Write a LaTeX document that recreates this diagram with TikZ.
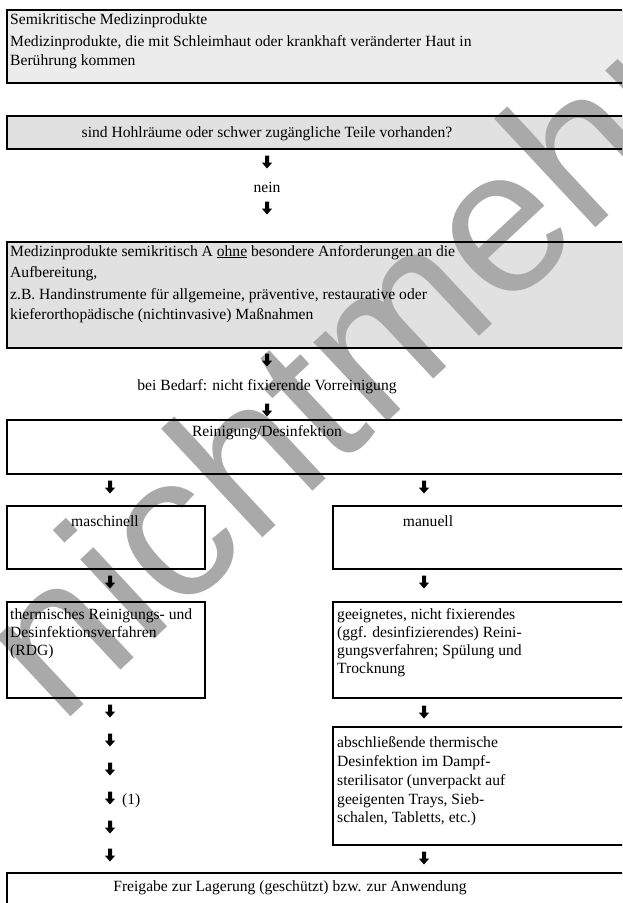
\documentclass[tikz,border=0pt]{standalone}
\usepackage{fontspec}
\setmainfont{Liberation Serif}
\newfontfamily\markfont{Liberation Sans}
\usetikzlibrary{calc}
\pgfdeclarelayer{fills}
\pgfdeclarelayer{mark}
\pgfsetlayers{fills,mark,main}
\definecolor{boxlight}{HTML}{ECECEC}
\definecolor{boxgray}{HTML}{E1E1E1}
\definecolor{markgray}{HTML}{A9A9A9}

% thick downward arrow glyph centred on a named coordinate
\newcommand\darrow[1]{\fill (#1) ++(-2,-6.5) -- ++(4,0) -- ++(0,7) -- ++(3.2,0) -- ++(-5.2,6) -- ++(-5.2,-6) -- ++(3.2,0) -- cycle;}
% fill behind a framed box
\newcommand\boxfill[2]{\begin{pgfonlayer}{fills}\fill[#1] (#2.north west) rectangle (#2.south east);\end{pgfonlayer}}

\begin{document}
\begin{tikzpicture}[x=1pt,y=-1pt,
  frame/.style={draw=black, line width=1.9pt, anchor=north west, inner sep=0pt, outer sep=0pt},
  txt/.style={anchor=base west, inner sep=0pt, font=\fontsize{15.6}{18}\selectfont},
  ctxt/.style={anchor=base, inner sep=0pt, font=\fontsize{15.6}{18}\selectfont}]
\useasboundingbox (0,0) rectangle (622,903);
\clip (0,0) rectangle (622,903);

% frames
\node[frame, minimum width=700pt, minimum height=73pt]  (b1) at (7,10) {};
\node[frame, minimum width=700pt, minimum height=33pt]  (b2) at (7,116) {};
\node[frame, minimum width=700pt, minimum height=106pt] (b3) at (7,242) {};
\node[frame, minimum width=700pt, minimum height=54pt]  (b4) at (7,420) {};
\node[frame, minimum width=198pt, minimum height=63pt]  (b5) at (7,506) {};
\node[frame, minimum width=400pt, minimum height=63pt]  (b6) at (333,506) {};
\node[frame, minimum width=198pt, minimum height=96pt]  (b7) at (7,602) {};
\node[frame, minimum width=400pt, minimum height=96pt]  (b8) at (333,602) {};
\node[frame, minimum width=400pt, minimum height=118pt] (b9) at (333,727) {};
\node[frame, minimum width=700pt, minimum height=60pt]  (b10) at (7,873) {};

\boxfill{boxlight}{b1}
\boxfill{boxgray}{b2}
\boxfill{boxgray}{b3}

% watermark
\begin{pgfonlayer}{mark}
\node[rotate=43, inner sep=0pt, text=markgray, font=\markfont\fontsize{205}{205}\selectfont] (wm) at (340,366) {nichtmehr};
\end{pgfonlayer}

% texts
\node[txt] (t1a) at (10,24) {Semikritische Medizinprodukte};
\node[txt] (t1b) at (10,46) {Medizinprodukte, die mit Schleimhaut oder krankhaft veränderter Haut in};
\node[txt] (t1c) at (10,65) {Berührung kommen};
\node[ctxt] (t2) at (267,137) {sind Hohlräume oder schwer zugängliche Teile vorhanden?};
\node[ctxt] (nein) at (267,192) {nein};
\node[txt] (t3a) at (10,256) {Medizinprodukte semikritisch A \underline{ohne} besondere Anforderungen an die};
\node[txt] (t3b) at (10,277) {Aufbereitung,};
\node[txt] (t3c) at (10,299) {z.B. Handinstrumente für allgemeine, präventive, restaurative oder};
\node[txt] (t3d) at (10,319) {kieferorthopädische (nichtinvasive) Maßnahmen};
\node[ctxt] (vor) at (267,390) {bei Bedarf: nicht fixierende Vorreinigung};
\node[ctxt] (t4) at (267,436) {Reinigung/Desinfektion};
\node[ctxt] (t5) at (105,526) {maschinell};
\node[ctxt] (t6) at (428,526) {manuell};
\node[txt] (t7a) at (10,619) {thermisches Reinigungs- und};
\node[txt] (t7b) at (10,637) {Desinfektionsverfahren};
\node[txt] (t7c) at (10,655) {(RDG)};
\node[txt] (t8a) at (337,619) {geeignetes, nicht fixierendes};
\node[txt] (t8b) at (337,637) {(ggf. desinfizierendes) Reini-};
\node[txt] (t8c) at (337,655) {gungsverfahren; Spülung und};
\node[txt] (t8d) at (337,673) {Trocknung};
\node[txt] (t9a) at (337,747) {abschließende thermische};
\node[txt] (t9b) at (337,766) {Desinfektion im Dampf-};
\node[txt] (t9c) at (337,785) {sterilisator (unverpackt auf};
\node[txt] (t9d) at (337,804) {geeigenten Trays, Sieb-};
\node[txt] (t9e) at (337,822) {schalen, Tabletts, etc.)};
\node[txt] (fn) at (122,804) {(1)};
\node[ctxt] (t10) at (290,891) {Freigabe zur Lagerung (geschützt) bzw. zur Anwendung};

% arrow glyphs
\coordinate (a1) at (267,162);
\coordinate (a2) at (267,208);
\coordinate (a3) at (267,360);
\coordinate (a4) at (267,410);
\coordinate (a5) at (110,487);
\coordinate (a6) at (424,487);
\coordinate (a7) at (110,582);
\coordinate (a8) at (424,582);
\coordinate (a9) at (110,711);
\coordinate (a10) at (424,712);
\coordinate (a11) at (110,740);
\coordinate (a12) at (110,769);
\coordinate (a13) at (110,798);
\coordinate (a14) at (110,827);
\coordinate (a15) at (110,855);
\coordinate (a16) at (424,858);
\foreach \a in {a1,a2,a3,a4,a5,a6,a7,a8,a9,a10,a11,a12,a13,a14,a15,a16}{\darrow{\a}}
\end{tikzpicture}
\end{document}
